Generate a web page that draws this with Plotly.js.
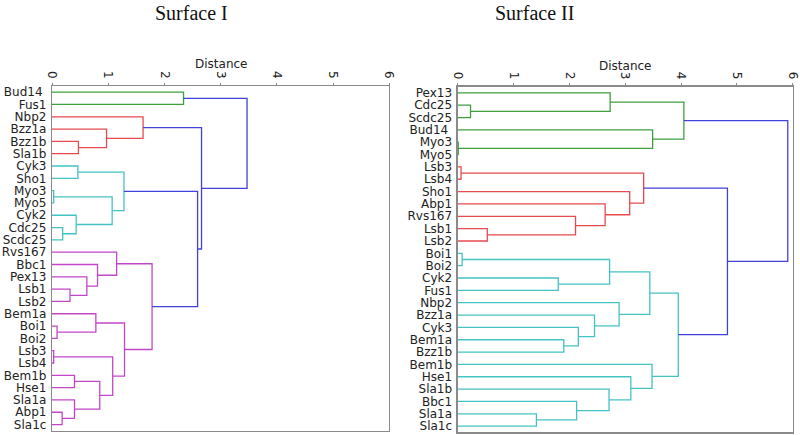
<!DOCTYPE html>
<html>
<head>
<meta charset="utf-8">
<script src="https://cdn.plot.ly/plotly-3.0.1.min.js"></script>
<style>html,body{margin:0;padding:0;background:#fff;}#chart{width:800px;height:435px;}</style>
</head>
<body>
<div id="chart"></div>
<script>
// ---------- Surface I ----------
const leaves1 = ["Bud14\u00a0","Fus1","Nbp2","Bzz1a","Bzz1b","Sla1b","Cyk3","Sho1","Myo3","Myo5","Cyk2","Cdc25","Scdc25","Rvs167","Bbc1","Pex13","Lsb1","Lsb2","Bem1a","Boi1","Boi2","Lsb3","Lsb4","Bem1b","Hse1","Sla1a","Abp1","Sla1c"];
// linkage: node ids 0..27 are leaves, merges get ids 28,29,...
const mergeA1 = [0,4,3,2,6,8,11,10,33,32,16,15,14,13,19,18,21,23,26,25,45,44,43,41,37,31,28];
const mergeB1 = [1,5,29,30,7,9,12,34,35,36,17,38,39,40,20,42,22,24,27,46,47,48,49,50,51,52,53];
const mergeH1 = [2.34,0.47,0.97,1.62,0.46,0.03,0.19,0.43,1.07,1.28,0.32,0.62,0.81,1.15,0.09,0.78,0.03,0.40,0.18,0.40,0.85,1.08,1.29,1.78,2.59,2.66,3.47];
const mergeC1 = ["g","r","r","r","c","c","c","c","c","c","m","m","m","m","m","m","m","m","m","m","m","m","m","m","b","b","b"];

// ---------- Surface II ----------
const leaves2 = ["Pex13","Cdc25","Scdc25","Bud14\u00a0","Myo3","Myo5","Lsb3","Lsb4","Sho1","Abp1","Rvs167","Lsb1","Lsb2","Boi1","Boi2","Cyk2","Fus1","Nbp2","Bzz1a","Cyk3","Bem1a","Bzz1b","Bem1b","Hse1","Sla1b","Bbc1","Sla1a","Sla1c"];
const mergeA2 = [1,0,4,3,29,6,11,10,9,8,33,13,15,39,20,19,18,17,41,26,25,24,23,22,46,38,32];
const mergeB2 = [2,28,5,30,31,7,12,34,35,36,37,14,16,40,21,42,43,44,45,27,47,48,49,50,51,52,53];
const mergeH2 = [0.23,2.73,0.01,3.49,4.05,0.06,0.53,2.11,2.64,3.08,3.33,0.08,1.80,2.72,1.90,2.16,2.45,2.89,3.44,1.41,2.13,2.71,3.10,3.48,3.95,4.83,5.91];
const mergeC2 = ["g","g","g","g","g","r","r","r","r","r","r","c","c","c","c","c","c","c","c","c","c","c","c","c","c","b","b"];

const xTicks = [0,1,2,3,4,5,6];
const titles = ["Surface I","Surface II"];
const axisTitle = "Distance";

const colorMap = {g:"#3f9f3f", r:"#e84a4f", c:"#45c2c2", m:"#c247c8", b:"#4242d8"};

function buildTraces(leaves, A, B, H, C, xa, ya) {
  const n = leaves.length;
  const pos = [], hgt = [];
  for (let i = 0; i < n; i++) { pos.push(5 + 10 * i); hgt.push(0); }
  const segs = {};
  for (let k = 0; k < A.length; k++) {
    const a = A[k], b = B[k], h = H[k], col = C[k];
    if (!segs[col]) segs[col] = {x: [], y: []};
    const s = segs[col];
    s.x.push(hgt[a], h, h, hgt[b], null);
    s.y.push(pos[a], pos[a], pos[b], pos[b], null);
    pos.push((pos[a] + pos[b]) / 2);
    hgt.push(h);
  }
  return Object.keys(segs).map(col => ({
    type: "scatter", mode: "lines", x: segs[col].x, y: segs[col].y,
    xaxis: xa, yaxis: ya, hoverinfo: "skip", showlegend: false,
    line: {color: colorMap[col], width: 1.3}
  }));
}

const traces = buildTraces(leaves1, mergeA1, mergeB1, mergeH1, mergeC1, "x", "y")
  .concat(buildTraces(leaves2, mergeA2, mergeB2, mergeH2, mergeC2, "x2", "y2"));

function xAxis(domain, anchor) {
  return {domain: domain, anchor: anchor, side: "top", range: [0, 6], tickvals: xTicks,
    ticktext: xTicks.map(String), tickangle: 90, showgrid: false, zeroline: false,
    showline: true, mirror: true, linecolor: "#8a8a8a", linewidth: 1.2,
    ticks: "outside", ticklen: 2, tickcolor: "#8a8a8a",
    tickfont: {family: "DejaVu Sans", size: 12, color: "#222"}};
}
function yAxis(domain, anchor, leaves) {
  return {domain: domain, anchor: anchor, range: [leaves.length * 10, 0],
    tickvals: leaves.map((_, i) => 5 + 10 * i), ticktext: leaves,
    showgrid: false, zeroline: false, showline: true, mirror: true,
    linecolor: "#8a8a8a", linewidth: 1.2, ticks: "", ticklabelstandoff: 2,
    tickfont: {family: "DejaVu Sans", size: 12, color: "#222"}};
}

const layout = {
  width: 800, height: 435, margin: {l: 0, r: 0, t: 0, b: 0},
  paper_bgcolor: "#fff", plot_bgcolor: "#fff", showlegend: false,
  xaxis: xAxis([0.065, 0.4866], "y"),
  yaxis: yAxis([0.0099, 0.8023], "x", leaves1),
  xaxis2: xAxis([0.5721, 0.991], "y2"),
  yaxis2: yAxis([0.0062, 0.8007], "x2", leaves2),
  annotations: [
    {text: titles[0], xref: "paper", yref: "paper", x: 191/800, y: 1 - 13/435, showarrow: false,
     xanchor: "center", yanchor: "middle", font: {family: "Liberation Serif", size: 20, color: "#111"}},
    {text: titles[1], xref: "paper", yref: "paper", x: 534/800, y: 1 - 13/435, showarrow: false,
     xanchor: "center", yanchor: "middle", font: {family: "Liberation Serif", size: 20, color: "#111"}},
    {text: axisTitle, xref: "x domain", yref: "paper", x: 0.5, y: 1 - 64/435, showarrow: false,
     xanchor: "center", yanchor: "middle", font: {family: "DejaVu Sans", size: 12, color: "#222"}},
    {text: axisTitle, xref: "x2 domain", yref: "paper", x: 0.5, y: 1 - 66/435, showarrow: false,
     xanchor: "center", yanchor: "middle", font: {family: "DejaVu Sans", size: 12, color: "#222"}}
  ]
};

Plotly.newPlot("chart", traces, layout, {staticPlot: true, displayModeBar: false});
</script>
</body>
</html>
